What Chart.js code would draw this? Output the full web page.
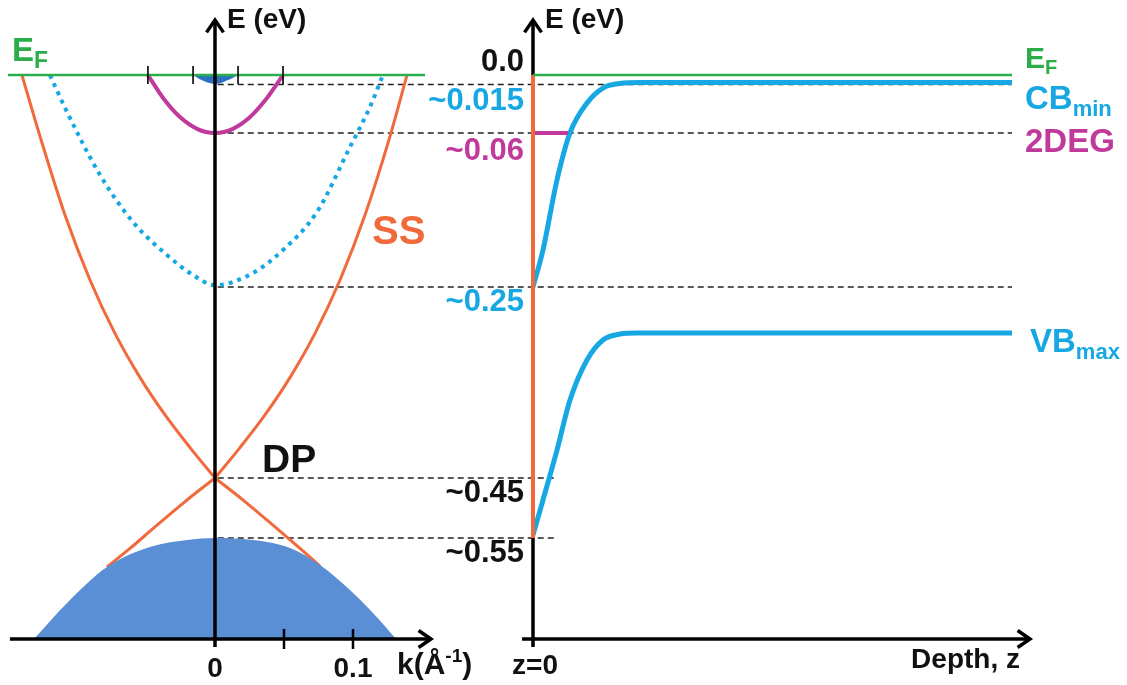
<!DOCTYPE html>
<html>
<head>
<meta charset="utf-8">
<script src="https://cdn.jsdelivr.net/npm/chart.js@4.4.1/dist/chart.umd.min.js"></script>
<style>
  html, body { margin: 0; background: #fff; }
  #wrap { width: 1127px; height: 685px; }
</style>
</head>
<body>
<div id="wrap"><canvas id="bands" width="1127" height="685"></canvas></div>
<script>
// schematic energy scale, E_F = 0 (eV, drawn positions)
const levelCBbulk = -0.0100;
const level2DEG = -0.0617;
const levelCBsurf = -0.2259;
const levelDP = -0.4294;
const levelVBtop = -0.4933;
const axisE = -0.601;

// left panel: E(k)
const ssUpRightK = [0, 0.0181, 0.0362, 0.0543, 0.0725, 0.0906, 0.1087, 0.1268, 0.1391];
const ssUpRightE = [-0.4294, -0.3970, -0.3622, -0.3224, -0.2753, -0.2184, -0.1492, -0.0653, 0];
const ssUpLeftK = [-0.1399, -0.1268, -0.1087, -0.0906, -0.0725, -0.0543, -0.0362, -0.0181, 0];
const ssUpLeftE = [0, -0.0653, -0.1492, -0.2184, -0.2753, -0.3224, -0.3622, -0.3970, -0.4294];
const ssLowRightK = [0, 0.0217, 0.0435, 0.0616, 0.0761];
const ssLowRightE = [-0.4294, -0.4545, -0.4815, -0.5045, -0.5232];
const ssLowLeftK = [-0.0783, -0.0616, -0.0435, -0.0217, 0];
const ssLowLeftE = [-0.5242, -0.5045, -0.4815, -0.4545, -0.4294];

const cbBulkK = [-0.1196, -0.1072, -0.0833, -0.0594, -0.0348, -0.0159, 0, 0.0275, 0.0493, 0.0739, 0.0978, 0.1123, 0.1217];
const cbBulkE = [0, -0.0394, -0.1065, -0.1566, -0.1918, -0.2131, -0.2240, -0.2109, -0.1864, -0.1459, -0.0767, -0.0340, 0];

const twoDegK = [-0.0486, -0.0362, -0.0254, -0.0130, 0, 0.0130, 0.0254, 0.0362, 0.0493];
const twoDegE = [0, -0.0272, -0.0448, -0.0573, -0.0617, -0.0573, -0.0448, -0.0272, 0];

const pocketK = [-0.0159, -0.0109, 0, 0.0109, 0.0167];
const pocketE = [0, -0.0045, -0.0095, -0.0045, 0];

const vbK = [-0.1319, -0.1072, -0.0783, -0.0471, -0.0203, 0, 0.0275, 0.0543, 0.0761, 0.0978, 0.1145, 0.1319];
const vbE = [-0.6021, -0.5626, -0.5242, -0.5029, -0.4955, -0.4933, -0.4955, -0.5040, -0.5221, -0.5488, -0.5733, -0.6021];

const kTicks = [0.05, 0.1];
const kFermiTicks = [-0.0486, -0.0159, 0.0167, 0.0493];

// right panel: E(z)
const cbZ = [0, 1.0, 2.4, 3.7, 5.4, 7.0, 8.7, 10.7, 47.9];
const cbE = [-0.2259, -0.1864, -0.1118, -0.0617, -0.0298, -0.0138, -0.0090, -0.0080, -0.0080];
const vbZ = [0, 1.0, 2.4, 3.7, 5.4, 7.0, 8.7, 10.4, 47.9];
const vbBandE = [-0.4901, -0.4528, -0.3996, -0.3463, -0.3036, -0.2823, -0.2760, -0.2749, -0.2749];
const depthEnd = 47.9;

const guideE = [levelCBbulk, level2DEG, levelCBsurf, levelDP, levelVBtop];
const guideEndZ = [47.9, 47.9, 47.9, 2.2, 2.2];

const depthTickText = ['0.0', '~0.015', '~0.06', '~0.25', '~0.45', '~0.55'];
const depthTickE = [0.0139, -0.0276, -0.0809, -0.2418, -0.4454, -0.5093];

const GREEN = '#2bae4a', ORANGE = '#f06a3c', CYAN = '#17a8e3', MAGENTA = '#c03a9c';
const depthTickColor = ['#111', CYAN, MAGENTA, CYAN, '#111', '#111'];

const FONT = '"Liberation Sans", Arial, sans-serif';

// text labels: parts = [text, size, dy]
const labels = [
  { axis: 'k', x: 0.0087, y: 0.0587, align: 'left', color: '#111', parts: [['E (eV)', 28, 0]] },
  { axis: 'k', x: -0.1471, y: 0.0251, align: 'left', color: GREEN, parts: [['E', 33, 0], ['F', 23, 10]] },
  { axis: 'k', x: 0.1138, y: -0.1683, align: 'left', color: ORANGE, parts: [['SS', 40, 0]] },
  { axis: 'k', x: 0.0341, y: -0.4113, align: 'left', color: '#111', parts: [['DP', 39, 0]] },
  { axis: 'k', x: 0, y: -0.6329, align: 'center', color: '#111', parts: [['0', 28, 0]] },
  { axis: 'k', x: 0.1, y: -0.6329, align: 'center', color: '#111', parts: [['0.1', 28, 0]] },
  { axis: 'k', x: 0.1319, y: -0.6297, align: 'left', color: '#111', parts: [['k(Å', 30, 0], ['-1', 19, -9], [')', 30, 0]] },
  { axis: 'z', x: 1.2, y: 0.0587, align: 'left', color: '#111', parts: [['E (eV)', 28, 0]] },
  { axis: 'z', x: 0.2, y: -0.6297, align: 'center', color: '#111', parts: [['z=0', 28, 0]] },
  { axis: 'z', x: 48.7, y: -0.6234, align: 'right', color: '#111', parts: [['Depth, z', 28, 0]] },
  { axis: 'z', x: 49.2, y: 0.0161, align: 'left', color: GREEN, parts: [['E', 30, 0], ['F', 20, 9]] },
  { axis: 'z', x: 49.2, y: -0.0266, align: 'left', color: CYAN, parts: [['CB', 33, 0], ['min', 22, 10]] },
  { axis: 'z', x: 49.2, y: -0.0719, align: 'left', color: MAGENTA, parts: [['2DEG', 33, 0]] },
  { axis: 'z', x: 49.7, y: -0.2855, align: 'left', color: CYAN, parts: [['VB', 33, 0], ['max', 22, 10]] },
];

const pts = (xs, ys) => xs.map((x, i) => ({ x, y: ys[i] }));

function curve(xs, ys, axis, color, width, extra = {}) {
  return {
    data: pts(xs, ys), xAxisID: axis, yAxisID: 'y', showLine: true,
    pointRadius: 0, borderColor: color, borderWidth: width, fill: false,
    cubicInterpolationMode: 'monotone', ...extra,
  };
}

function arrowLine(ctx, x1, y1, x2, y2) {
  ctx.beginPath(); ctx.moveTo(x1, y1); ctx.lineTo(x2, y2); ctx.stroke();
  const a = Math.atan2(y2 - y1, x2 - x1), len = 15, wing = 0.6;
  ctx.beginPath();
  ctx.moveTo(x2 - len * Math.cos(a - wing), y2 - len * Math.sin(a - wing));
  ctx.lineTo(x2, y2);
  ctx.lineTo(x2 - len * Math.cos(a + wing), y2 - len * Math.sin(a + wing));
  ctx.stroke();
}

const schematic = {
  id: 'schematic',
  beforeDatasetsDraw(chart) {
    const { ctx, scales: { k, z, y } } = chart;
    ctx.save();
    ctx.strokeStyle = '#222';
    ctx.lineWidth = 1.6;
    ctx.setLineDash([6, 4]);
    guideE.forEach((e, i) => {
      const py = y.getPixelForValue(e);
      ctx.beginPath();
      ctx.moveTo(k.getPixelForValue(0.002), py);
      ctx.lineTo(z.getPixelForValue(guideEndZ[i]), py);
      ctx.stroke();
    });
    ctx.setLineDash([]);
    // right energy axis (orange surface line covers its middle)
    ctx.strokeStyle = '#000';
    ctx.lineWidth = 3.5;
    const z0 = z.getPixelForValue(0);
    arrowLine(ctx, z0, y.getPixelForValue(-0.6094), z0, y.getPixelForValue(0.0587));
    ctx.restore();
  },
  afterDatasetsDraw(chart) {
    const { ctx, scales: { k, z, y } } = chart;
    ctx.save();
    ctx.strokeStyle = '#000';
    ctx.lineWidth = 3.5;
    const k0 = k.getPixelForValue(0), ya = y.getPixelForValue(axisE);
    arrowLine(ctx, k0, y.getPixelForValue(-0.6094), k0, y.getPixelForValue(0.0587));
    arrowLine(ctx, k.getPixelForValue(-0.1486), ya, k.getPixelForValue(0.1565), ya);
    arrowLine(ctx, z.getPixelForValue(-1.1), ya, z.getPixelForValue(49.7), ya);

    ctx.lineWidth = 2.5;
    kTicks.forEach(t => {
      const px = k.getPixelForValue(t);
      ctx.beginPath(); ctx.moveTo(px, ya - 10); ctx.lineTo(px, ya + 10); ctx.stroke();
    });
    ctx.lineWidth = 1.6;
    const yf = y.getPixelForValue(0);
    kFermiTicks.forEach(t => {
      const px = k.getPixelForValue(t);
      ctx.beginPath(); ctx.moveTo(px, yf - 9); ctx.lineTo(px, yf + 9); ctx.stroke();
    });

    // tick labels on the depth panel
    ctx.textBaseline = 'middle';
    ctx.textAlign = 'right';
    ctx.font = `bold 31px ${FONT}`;
    depthTickText.forEach((t, i) => {
      ctx.fillStyle = depthTickColor[i];
      ctx.fillText(t, z.getPixelForValue(-0.9), y.getPixelForValue(depthTickE[i]));
    });

    ctx.textAlign = 'left';
    labels.forEach(l => {
      const sc = l.axis === 'k' ? k : z;
      const widths = l.parts.map(([t, s]) => { ctx.font = `bold ${s}px ${FONT}`; return ctx.measureText(t).width; });
      const total = widths.reduce((a, b) => a + b, 0);
      let px = sc.getPixelForValue(l.x);
      if (l.align === 'center') px -= total / 2;
      if (l.align === 'right') px -= total;
      const py = y.getPixelForValue(l.y);
      ctx.fillStyle = l.color;
      l.parts.forEach(([t, s, dy], i) => {
        ctx.font = `bold ${s}px ${FONT}`;
        ctx.fillText(t, px, py + dy);
        px += widths[i];
      });
    });
    ctx.restore();
  },
};

new Chart(document.getElementById('bands'), {
  type: 'scatter',
  data: {
    datasets: [
      curve([-0.15, 0.1522], [0, 0], 'k', GREEN, 2.5, { order: 0 }),
      curve([0, depthEnd], [0, 0], 'z', GREEN, 2.5, { order: 0 }),
      curve(pocketK, pocketE, 'k', '#2a6fc4', 0, { order: 1, fill: { value: 0 }, backgroundColor: '#2a6fc4' }),
      curve(twoDegK, twoDegE, 'k', MAGENTA, 4, { order: 1 }),
      curve(cbBulkK, cbBulkE, 'k', CYAN, 4, { order: 4, borderDash: [4, 5] }),
      curve(vbK, vbE, 'k', '#5a8fd6', 0, { order: 2, fill: { value: axisE }, backgroundColor: '#5a8fd6' }),
      curve(ssUpRightK, ssUpRightE, 'k', ORANGE, 3, { order: 3 }),
      curve(ssUpLeftK, ssUpLeftE, 'k', ORANGE, 3, { order: 3 }),
      curve(ssLowRightK, ssLowRightE, 'k', ORANGE, 3, { order: 3 }),
      curve(ssLowLeftK, ssLowLeftE, 'k', ORANGE, 3, { order: 3 }),
      curve([0, 0], [0, levelVBtop], 'z', ORANGE, 4, { order: 1 }),
      curve([0.2, 3.5], [level2DEG, level2DEG], 'z', MAGENTA, 4, { order: 1 }),
      curve(cbZ, cbE, 'z', CYAN, 5, { order: 2 }),
      curve(vbZ, vbBandE, 'z', CYAN, 5, { order: 2 }),
    ],
  },
  options: {
    responsive: false,
    animation: false,
    layout: { padding: 0 },
    plugins: { legend: { display: false }, tooltip: { enabled: false } },
    scales: {
      k: { type: 'linear', axis: 'x', min: -0.1558, max: 0.6609, display: false },
      z: { type: 'linear', axis: 'x', min: -53.3, max: 59.4, display: false },
      y: { type: 'linear', min: -0.65, max: 0.08, display: false },
    },
  },
  plugins: [schematic],
});
</script>
</body>
</html>
